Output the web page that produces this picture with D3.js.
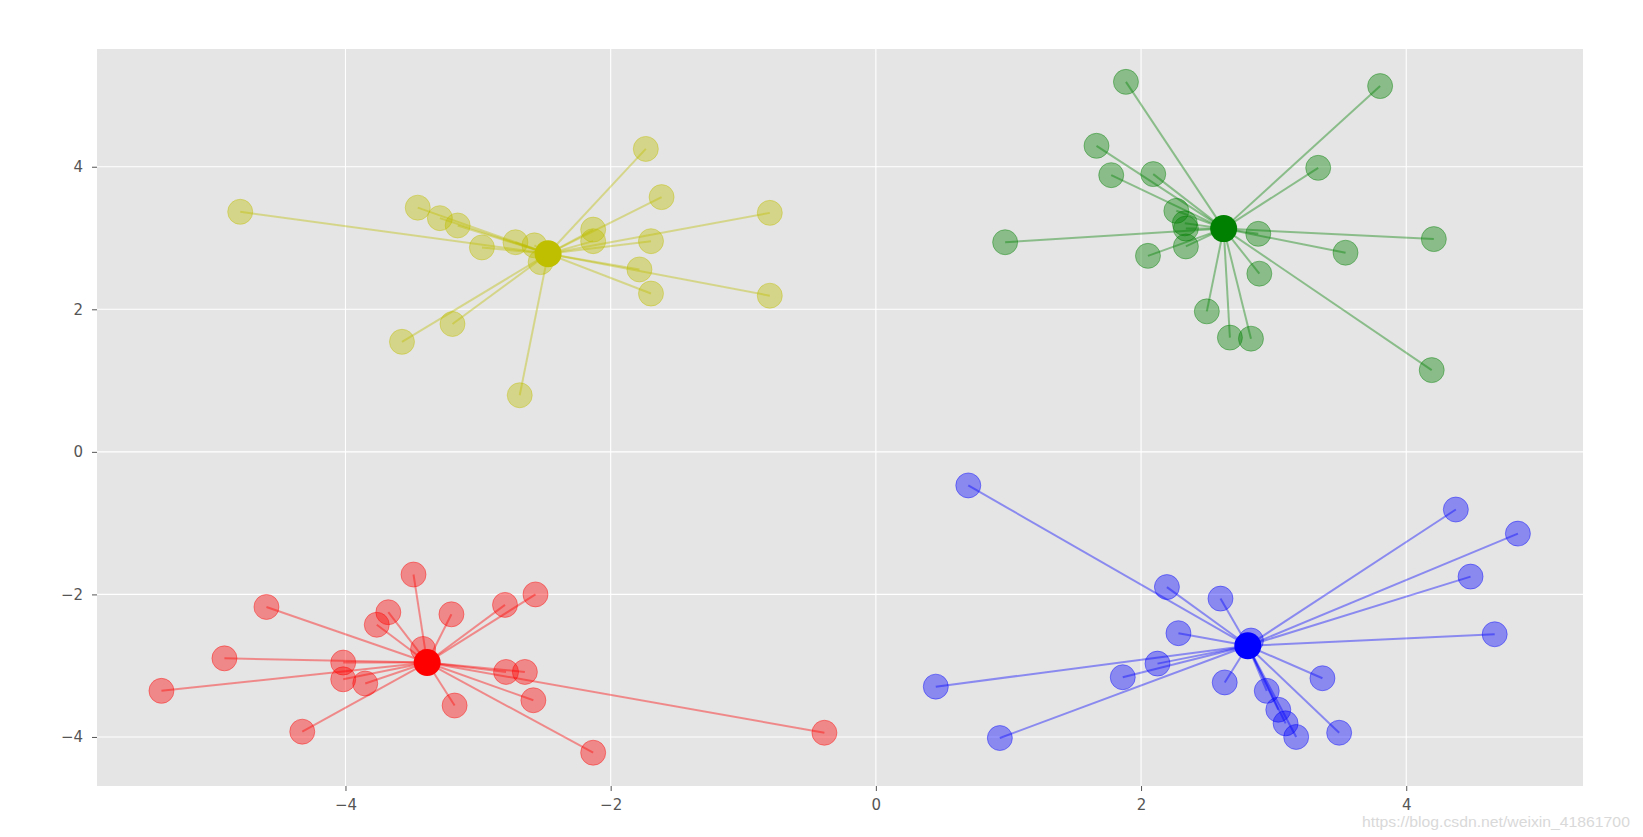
<!DOCTYPE html>
<html>
<head>
<meta charset="utf-8">
<script src="https://cdn.jsdelivr.net/npm/d3@7"></script>
<style>
  html, body { margin: 0; padding: 0; background: #ffffff; }
  svg { display: block; }
  .tick text { font-family: "DejaVu Sans", sans-serif; font-size: 15px; fill: #555555; }
</style>
</head>
<body>
<div id="chart"></div>
<script>
const WIDTH = 1643;
const HEIGHT = 837;
const MARGIN = {top: 49, right: 60, bottom: 51, left: 97};

// data range shown on the axes
const xDomain = [-5.874, 5.333];
const yDomain = [-4.688, 5.652];
const xTicks = [-4, -2, 0, 2, 4];
const yTicks = [-4, -2, 0, 2, 4];

// cluster colours and centres
const clusterColors = ['#bfbf00', '#008000', '#ff0000', '#0000ff'];
const centers = [[-2.472, 2.779], [2.623, 3.132], [-3.384, -2.956], [2.805, -2.721]];

// points that belong to each cluster
const yellowPoints = [
  [-4.794, 3.368], [-3.455, 3.426], [-3.288, 3.279], [-3.154, 3.176], [-2.971, 2.868],
  [-2.718, 2.941], [-2.575, 2.897], [-2.528, 2.662], [-2.132, 3.118], [-2.132, 2.956],
  [-1.735, 4.250], [-1.616, 3.574], [-1.696, 2.956], [-0.800, 3.353], [-1.783, 2.559],
  [-1.696, 2.221], [-0.800, 2.191], [-3.193, 1.794], [-3.574, 1.544], [-2.686, 0.794]
];
const greenPoints = [
  [1.886, 5.191], [3.803, 5.132], [1.664, 4.294], [1.775, 3.882], [2.092, 3.897],
  [3.336, 3.985], [2.266, 3.382], [2.330, 3.206], [2.338, 3.132], [0.975, 2.941],
  [2.884, 3.059], [4.208, 2.985], [3.542, 2.794], [2.052, 2.750], [2.338, 2.882],
  [2.892, 2.500], [2.496, 1.971], [2.670, 1.603], [2.829, 1.588], [4.192, 1.147]
];
const redPoints = [
  [-3.487, -1.721], [-4.596, -2.176], [-3.677, -2.250], [-3.764, -2.426], [-3.201, -2.279],
  [-2.797, -2.147], [-2.567, -2.000], [-3.415, -2.765], [-4.913, -2.897], [-4.017, -2.956],
  [-4.017, -3.191], [-3.851, -3.250], [-5.388, -3.353], [-2.789, -3.088], [-2.647, -3.088],
  [-3.177, -3.559], [-2.583, -3.485], [-4.326, -3.926], [-2.132, -4.221], [-0.388, -3.941]
];
const bluePoints = [
  [0.697, -0.471], [4.374, -0.809], [4.842, -1.147], [4.485, -1.750], [2.195, -1.897],
  [2.599, -2.059], [2.829, -2.647], [2.282, -2.544], [4.667, -2.559], [0.452, -3.294],
  [1.862, -3.162], [2.124, -2.971], [2.631, -3.235], [3.368, -3.176], [2.948, -3.353],
  [3.035, -3.618], [3.090, -3.809], [3.170, -4.000], [3.494, -3.941], [0.935, -4.015]
];
const clusters = [yellowPoints, greenPoints, redPoints, bluePoints];

const watermark = 'https://blog.csdn.net/weixin_41861700';

document.addEventListener('DOMContentLoaded', function() {
  drawChart();
});

function drawChart() {
  const innerW = WIDTH - MARGIN.left - MARGIN.right;
  const innerH = HEIGHT - MARGIN.top - MARGIN.bottom;

  const xScale = d3.scaleLinear().domain(xDomain).range([MARGIN.left, MARGIN.left + innerW]);
  const yScale = d3.scaleLinear().domain(yDomain).range([MARGIN.top + innerH, MARGIN.top]);

  const svg = d3.select('#chart')
                .append('svg')
                .attr('width', WIDTH)
                .attr('height', HEIGHT);

  // grey panel
  svg.append('rect')
     .attr('x', MARGIN.left)
     .attr('y', MARGIN.top)
     .attr('width', innerW)
     .attr('height', innerH)
     .attr('fill', '#e5e5e5');

  // white grid
  svg.append('g')
     .selectAll('line')
     .data(xTicks)
     .enter()
     .append('line')
     .attr('x1', d => xScale(d)).attr('x2', d => xScale(d))
     .attr('y1', MARGIN.top).attr('y2', MARGIN.top + innerH)
     .attr('stroke', '#ffffff')
     .attr('stroke-width', 1.1);
  svg.append('g')
     .selectAll('line')
     .data(yTicks)
     .enter()
     .append('line')
     .attr('y1', d => yScale(d)).attr('y2', d => yScale(d))
     .attr('x1', MARGIN.left).attr('x2', MARGIN.left + innerW)
     .attr('stroke', '#ffffff')
     .attr('stroke-width', 1.1);

  // axes: ticks and labels only
  const fmt = d => d < 0 ? '\u2212' + Math.abs(d) : String(d);
  const xAxis = svg.append('g')
     .attr('transform', 'translate(0, ' + (MARGIN.top + innerH) + ')')
     .call(d3.axisBottom(xScale).tickValues(xTicks).tickFormat(fmt).tickSize(5).tickPadding(8));
  const yAxis = svg.append('g')
     .attr('transform', 'translate(' + MARGIN.left + ', 0)')
     .call(d3.axisLeft(yScale).tickValues(yTicks).tickFormat(fmt).tickSize(5).tickPadding(9));
  [xAxis, yAxis].forEach(ax => {
    ax.select('.domain').remove();
    ax.selectAll('.tick line').attr('stroke', '#555555');
  });

  // each cluster: points, spokes to the centre, then the centre itself
  clusters.forEach((pts, i) => {
    const color = clusterColors[i];
    const c = centers[i];
    const g = svg.append('g');

    g.selectAll('circle.pt')
     .data(pts)
     .enter()
     .append('circle')
     .attr('class', 'pt')
     .attr('cx', d => xScale(d[0]))
     .attr('cy', d => yScale(d[1]))
     .attr('r', 12.5)
     .attr('fill', color)
     .attr('fill-opacity', 0.4)
     .attr('stroke', color)
     .attr('stroke-opacity', 0.4)
     .attr('stroke-width', 1);

    g.selectAll('line')
     .data(pts)
     .enter()
     .append('line')
     .attr('x1', xScale(c[0]))
     .attr('y1', yScale(c[1]))
     .attr('x2', d => xScale(d[0]))
     .attr('y2', d => yScale(d[1]))
     .attr('stroke', color)
     .attr('stroke-opacity', 0.4)
     .attr('stroke-width', 2);

    g.append('circle')
     .attr('cx', xScale(c[0]))
     .attr('cy', yScale(c[1]))
     .attr('r', 13.5)
     .attr('fill', color);
  });

  // watermark, fitted to the width it has in the picture
  const wm = svg.append('text')
     .attr('x', 0)
     .attr('y', 0)
     .style('font-family', '"Liberation Sans Narrow", "Liberation Sans", sans-serif')
     .style('font-size', '15px')
     .attr('fill', '#d9d9d9')
     .text(watermark);
  const natural = wm.node().getComputedTextLength();
  const stretch = 268 / natural;
  wm.attr('transform', 'translate(1362, 827) scale(' + stretch + ', 1)');
}
</script>
</body>
</html>
